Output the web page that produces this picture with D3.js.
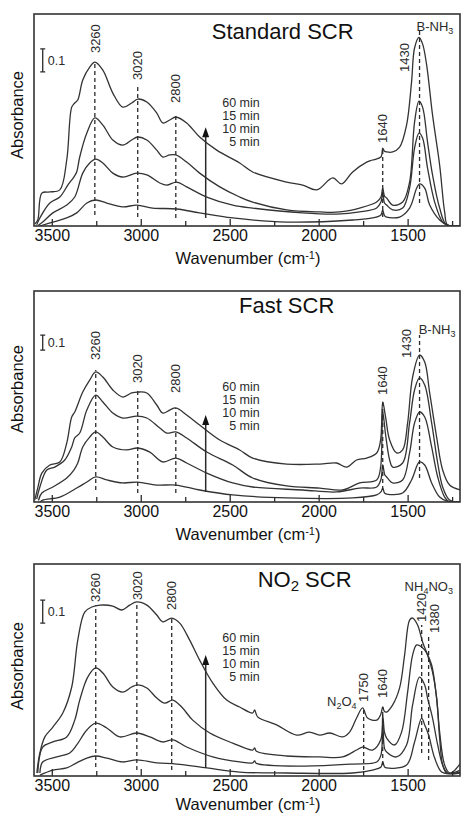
<!DOCTYPE html>
<html>
<head>
<meta charset="utf-8">
<script src="https://cdn.jsdelivr.net/npm/d3@7"></script>
<style>
  body { margin: 0; background: #fff; }
  svg { display: block; font-family: "Liberation Sans", Arial, sans-serif; }
</style>
</head>
<body>
<svg id="chart" width="461" height="814"></svg>
<script>
// ---- data: [wavenumber cm-1, absorbance] ----
const times = ['60 min', '15 min', '10 min', '5 min'];
const majorTicks = [3500, 3000, 2500, 2000, 1500];
const minorTicks = [3250, 2750, 2250, 1750, 1250];

// Standard SCR
const std60 = [[3596,0.009],[3579,0.026],[3556,0.143],[3511,0.148],[3455,0.157],[3416,0.287],[3388,0.517],[3371,0.535],[3354,0.548],[3326,0.635],[3287,0.691],[3258,0.713],[3213,0.678],[3157,0.578],[3101,0.517],[3051,0.535],[3017,0.552],[2966,0.539],[2910,0.491],[2876,0.448],[2837,0.461],[2803,0.474],[2742,0.448],[2669,0.387],[2573,0.330],[2444,0.274],[2371,0.235],[2180,0.191],[2090,0.178],[2011,0.157],[1921,0.209],[1871,0.183],[1809,0.235],[1730,0.278],[1697,0.287],[1650,0.300],[1640,0.339],[1630,0.325],[1618,0.322],[1584,0.322],[1545,0.343],[1506,0.439],[1478,0.626],[1461,0.774],[1436,0.820],[1416,0.792],[1393,0.700],[1360,0.483],[1320,0.265],[1292,0.061],[1275,0.004],[1202,0]];
const std15 = [[3585,0.005],[3567,0.035],[3511,0.100],[3455,0.126],[3410,0.178],[3376,0.213],[3360,0.235],[3343,0.300],[3303,0.404],[3258,0.470],[3213,0.439],[3157,0.374],[3101,0.352],[3051,0.374],[3017,0.387],[2966,0.374],[2910,0.330],[2876,0.300],[2837,0.309],[2803,0.309],[2742,0.278],[2669,0.230],[2556,0.170],[2444,0.126],[2371,0.104],[2180,0.070],[1994,0.061],[1882,0.061],[1770,0.078],[1674,0.104],[1650,0.126],[1640,0.165],[1630,0.130],[1618,0.122],[1584,0.091],[1528,0.104],[1489,0.191],[1461,0.452],[1436,0.543],[1416,0.517],[1388,0.365],[1360,0.222],[1320,0.078],[1281,0.004],[1202,0]];
const std10 = [[3575,0.004],[3551,0.017],[3494,0.057],[3416,0.091],[3371,0.126],[3326,0.230],[3287,0.274],[3253,0.291],[3213,0.274],[3157,0.230],[3101,0.213],[3022,0.230],[2966,0.222],[2893,0.187],[2854,0.178],[2798,0.191],[2742,0.170],[2629,0.126],[2483,0.091],[2371,0.078],[2090,0.057],[1899,0.052],[1770,0.061],[1674,0.078],[1650,0.104],[1640,0.143],[1630,0.100],[1618,0.091],[1584,0.070],[1528,0.078],[1489,0.165],[1461,0.339],[1436,0.404],[1416,0.383],[1388,0.252],[1348,0.104],[1303,0.017],[1275,0.004],[1202,0]];
const std5 = [[3567,0],[3494,0.017],[3416,0.035],[3360,0.057],[3303,0.100],[3253,0.113],[3191,0.100],[3101,0.083],[3022,0.091],[2933,0.078],[2798,0.074],[2669,0.057],[2483,0.035],[2180,0.017],[1809,0.026],[1697,0.035],[1650,0.048],[1640,0.070],[1630,0.045],[1618,0.039],[1545,0.039],[1489,0.078],[1449,0.165],[1433,0.183],[1404,0.165],[1376,0.091],[1320,0.026],[1275,0.004],[1202,0]];

// Fast SCR
const fast60 = [[3596,0.013],[3579,0.093],[3556,0.193],[3511,0.247],[3455,0.267],[3416,0.393],[3388,0.567],[3371,0.600],[3326,0.733],[3287,0.813],[3253,0.867],[3213,0.833],[3157,0.747],[3101,0.700],[3051,0.727],[3017,0.733],[2966,0.727],[2910,0.647],[2876,0.593],[2837,0.613],[2803,0.627],[2742,0.580],[2669,0.513],[2556,0.413],[2444,0.347],[2371,0.293],[2180,0.253],[1994,0.253],[1899,0.260],[1843,0.233],[1787,0.280],[1730,0.293],[1674,0.327],[1652,0.413],[1640,0.667],[1624,0.567],[1601,0.413],[1562,0.327],[1528,0.347],[1500,0.527],[1472,0.833],[1433,0.980],[1404,0.933],[1376,0.727],[1337,0.433],[1303,0.213],[1264,0.113],[1202,0.080]];
const fast15 = [[3585,0.020],[3567,0.100],[3528,0.213],[3483,0.233],[3427,0.280],[3388,0.367],[3371,0.427],[3343,0.460],[3303,0.613],[3253,0.713],[3213,0.667],[3157,0.593],[3101,0.560],[3022,0.573],[2966,0.560],[2893,0.493],[2854,0.460],[2803,0.467],[2742,0.427],[2629,0.333],[2483,0.247],[2371,0.160],[2180,0.107],[1994,0.093],[1865,0.080],[1770,0.127],[1674,0.147],[1652,0.230],[1640,0.600],[1624,0.450],[1601,0.280],[1584,0.233],[1528,0.260],[1489,0.527],[1461,0.747],[1433,0.827],[1404,0.780],[1365,0.527],[1331,0.260],[1303,0.100],[1264,0.013],[1202,0]];
const fast10 = [[3575,0.010],[3556,0.060],[3494,0.100],[3416,0.160],[3376,0.213],[3354,0.260],[3326,0.367],[3287,0.433],[3253,0.467],[3213,0.433],[3157,0.367],[3079,0.347],[3017,0.360],[2949,0.333],[2876,0.267],[2803,0.293],[2742,0.260],[2629,0.193],[2483,0.127],[2371,0.100],[2090,0.080],[1899,0.067],[1770,0.093],[1674,0.100],[1650,0.150],[1640,0.247],[1628,0.180],[1618,0.167],[1584,0.127],[1528,0.147],[1489,0.327],[1461,0.527],[1433,0.600],[1404,0.567],[1365,0.367],[1331,0.167],[1292,0.033],[1264,0],[1202,0]];
const fast5 = [[3565,0],[3551,0.013],[3455,0.033],[3360,0.093],[3303,0.133],[3253,0.167],[3191,0.147],[3101,0.127],[3017,0.133],[2910,0.113],[2803,0.113],[2669,0.080],[2483,0.047],[2180,0.027],[1809,0.027],[1674,0.047],[1650,0.067],[1640,0.093],[1630,0.060],[1618,0.053],[1528,0.060],[1478,0.147],[1433,0.267],[1404,0.247],[1365,0.127],[1320,0.033],[1281,0.007],[1202,0]];

// NO2 SCR
const no260 = [[3584,0.013],[3567,0.100],[3539,0.170],[3494,0.213],[3438,0.274],[3388,0.387],[3354,0.591],[3315,0.713],[3275,0.735],[3230,0.743],[3157,0.739],[3107,0.722],[3062,0.743],[3022,0.757],[2966,0.743],[2910,0.700],[2876,0.670],[2826,0.687],[2781,0.665],[2725,0.591],[2669,0.504],[2595,0.404],[2517,0.330],[2444,0.300],[2371,0.274],[2360,0.287],[2343,0.257],[2236,0.222],[2124,0.178],[2051,0.191],[1994,0.178],[1938,0.187],[1865,0.170],[1826,0.191],[1787,0.252],[1753,0.296],[1725,0.252],[1674,0.243],[1650,0.270],[1640,0.300],[1630,0.280],[1618,0.278],[1584,0.309],[1545,0.383],[1517,0.526],[1489,0.678],[1472,0.687],[1444,0.657],[1416,0.583],[1388,0.526],[1360,0.452],[1337,0.339],[1320,0.165],[1303,0.048],[1281,0.013],[1247,0.017],[1202,0.057]];
const no215 = [[3579,0.013],[3551,0.126],[3494,0.148],[3416,0.170],[3371,0.243],[3343,0.330],[3298,0.430],[3253,0.470],[3213,0.448],[3157,0.387],[3101,0.365],[3051,0.387],[3017,0.396],[2966,0.383],[2910,0.339],[2865,0.317],[2820,0.330],[2770,0.300],[2708,0.243],[2612,0.187],[2483,0.143],[2371,0.113],[2360,0.122],[2350,0.108],[2180,0.087],[1994,0.083],[1865,0.083],[1787,0.113],[1753,0.126],[1697,0.113],[1650,0.160],[1640,0.265],[1630,0.190],[1618,0.165],[1573,0.135],[1534,0.191],[1500,0.365],[1472,0.526],[1449,0.570],[1421,0.561],[1393,0.535],[1365,0.483],[1337,0.339],[1320,0.191],[1292,0.048],[1264,0.013],[1202,0.026]];
const no210 = [[3567,0.013],[3551,0.061],[3472,0.083],[3399,0.100],[3360,0.135],[3303,0.200],[3253,0.230],[3191,0.209],[3118,0.170],[3022,0.187],[2949,0.170],[2876,0.148],[2820,0.157],[2742,0.126],[2595,0.083],[2444,0.061],[2371,0.057],[2360,0.066],[2350,0.055],[2090,0.043],[1809,0.052],[1674,0.061],[1650,0.091],[1640,0.235],[1630,0.120],[1618,0.104],[1562,0.083],[1506,0.135],[1472,0.309],[1433,0.430],[1404,0.396],[1388,0.339],[1360,0.252],[1331,0.135],[1303,0.048],[1275,0.013],[1202,0.017]];
const no25 = [[3567,0.004],[3494,0.026],[3416,0.035],[3360,0.057],[3303,0.078],[3253,0.087],[3191,0.078],[3101,0.061],[3022,0.070],[2910,0.057],[2798,0.052],[2629,0.035],[2444,0.017],[2180,0.013],[1809,0.013],[1697,0.026],[1650,0.039],[1640,0.061],[1630,0.040],[1618,0.035],[1506,0.048],[1461,0.148],[1421,0.252],[1404,0.222],[1382,0.178],[1348,0.078],[1309,0.017],[1264,0.009],[1202,0.013]];

// peak markers: wavenumber, label, dashed span (lo..hi absorbance), label foot, optional label wavenumber
const stdPeaks = [
  { wn: 3258, text: '3260', lo: 0.048, hi: 0.713, foot: 0.752 },
  { wn: 3017, text: '3020', lo: 0.039, hi: 0.613, foot: 0.635 },
  { wn: 2803, text: '2800', lo: 0.035, hi: 0.483, foot: 0.535 },
  { wn: 1640, text: '1640', lo: 0.039, hi: 0.343, foot: 0.361 },
  { wn: 1433, text: '1430', lo: 0.100, hi: 0.852, foot: 0.670, at: 1517 }
];
const fastPeaks = [
  { wn: 3253, text: '3260', lo: 0.080, hi: 0.880, foot: 0.947 },
  { wn: 3017, text: '3020', lo: 0.060, hi: 0.760, foot: 0.793 },
  { wn: 2803, text: '2800', lo: 0.060, hi: 0.627, foot: 0.727 },
  { wn: 1640, text: '1640', lo: 0.080, hi: 0.680, foot: 0.713 },
  { wn: 1433, text: '1430', lo: 0.160, hi: 1.113, foot: 0.960, at: 1506 }
];
const no2Peaks = [
  { wn: 3253, text: '3260', lo: 0.039, hi: 0.743, foot: 0.757 },
  { wn: 3022, text: '3020', lo: 0.026, hi: 0.750, foot: 0.765 },
  { wn: 2826, text: '2800', lo: 0.026, hi: 0.687, foot: 0.722 },
  { wn: 1747, text: '1750', lo: 0.026, hi: 0.300, foot: 0.322 },
  { wn: 1640, text: '1640', lo: 0.048, hi: 0.300, foot: 0.339 },
  { wn: 1421, text: '1420', lo: 0.100, hi: 0.657, foot: 0.670 },
  { wn: 1382, text: '1380', lo: 0.070, hi: 0.613, foot: 0.622, at: 1348 }
];

const panels = [
  { title: [['Standard SCR']], titleWn: 2202, titleDy: 25, top: 14, bottom: 226, yMax: 0.922,
    series: [std60, std15, std10, std5], peaks: stdPeaks, xTitleDy: 38,
    bar: [0.670, 0.770], arrow: [0.035, 0.43], timeTop: 0.535, absY: 115,
    species: [{ parts: [['B-NH'], ['3', 'sub']], wn: 1450, a: 0.848, anchor: 'start' }] },
  { title: [['Fast SCR']], titleWn: 2180, titleDy: 22, top: 291, bottom: 502, yMax: 1.407,
    series: [fast60, fast15, fast10, fast5], peaks: fastPeaks, xTitleDy: 38,
    bar: [1.013, 1.113], arrow: [0.067, 0.58], timeTop: 0.767, absY: 389,
    species: [{ parts: [['B-NH'], ['3', 'sub']], wn: 1438, a: 1.12, anchor: 'start' }] },
  { title: [['NO'], ['2', 'sub'], [' SCR']], titleWn: 2079, titleDy: 23, top: 564, bottom: 776, yMax: 0.922,
    series: [no260, no215, no210, no25], peaks: no2Peaks, xTitleDy: 34,
    bar: [0.665, 0.765], arrow: [0.035, 0.526], timeTop: 0.600, absY: 666,
    species: [
      { parts: [['NH'], ['4', 'sub'], ['NO'], ['3', 'sub']], wn: 1517, a: 0.804, anchor: 'start' },
      { parts: [['N'], ['2', 'sub'], ['O'], ['4', 'sub']], wn: 1787, a: 0.304, anchor: 'end' }
    ] }
];

const ink = '#2b2b2b';
const svg = d3.select('#chart');
const x = d3.scaleLinear().domain([3600, 1200]).range([34, 461]);
const plotRight = 460;

function rich(sel, parts, subSize) {
  parts.forEach(([s, kind]) => {
    const t = sel.append('tspan').text(s);
    if (kind === 'sub') t.attr('baseline-shift', '-28%').attr('font-size', subSize);
    if (kind === 'sup') t.attr('baseline-shift', '45%').attr('font-size', subSize);
  });
}

panels.forEach((p, pi) => {
  const y = d3.scaleLinear().domain([0, p.yMax]).range([p.bottom, p.top]);
  const g = svg.append('g');

  g.append('clipPath').attr('id', 'clip' + pi)
    .append('rect').attr('x', x(3600)).attr('y', p.top)
    .attr('width', plotRight - x(3600)).attr('height', p.bottom - p.top);

  // spectra
  const line = d3.line().x(d => x(d[0])).y(d => y(d[1])).curve(d3.curveCatmullRom.alpha(0.5));
  g.append('g').attr('clip-path', `url(#clip${pi})`)
    .selectAll('path').data(p.series).join('path')
    .attr('d', line).attr('fill', 'none').attr('stroke', '#333').attr('stroke-width', 1.3);

  // dashed peak markers + rotated labels
  g.selectAll('line.pk').data(p.peaks).join('line').attr('class', 'pk')
    .attr('x1', d => x(d.wn)).attr('x2', d => x(d.wn))
    .attr('y1', d => y(d.lo)).attr('y2', d => y(d.hi))
    .attr('stroke', ink).attr('stroke-width', 1.3).attr('stroke-dasharray', '4,3');
  g.selectAll('text.pk').data(p.peaks).join('text').attr('class', 'pk')
    .attr('transform', d => `translate(${x(d.at || d.wn)},${y(d.foot)}) rotate(-90)`)
    .attr('dy', '0.36em').attr('font-size', 13).attr('fill', ink)
    .text(d => d.text);

  // species labels
  p.species.forEach(s => {
    const t = g.append('text').attr('x', x(s.wn)).attr('y', y(s.a))
      .attr('text-anchor', s.anchor).attr('font-size', 13).attr('fill', ink);
    rich(t, s.parts, 9);
  });

  // arrow with time labels
  const ax = x(2635), ay0 = y(p.arrow[0]), ay1 = y(p.arrow[1]);
  g.append('line').attr('x1', ax).attr('x2', ax).attr('y1', ay0).attr('y2', ay1 + 8)
    .attr('stroke', ink).attr('stroke-width', 1.5);
  g.append('path').attr('d', `M${ax},${ay1} L${ax - 3.5},${ay1 + 10} L${ax + 3.5},${ay1 + 10} Z`).attr('fill', '#111');
  g.selectAll('text.tm').data(times).join('text').attr('class', 'tm')
    .attr('x', x(2331)).attr('y', (d, i) => y(p.timeTop) + i * 13)
    .attr('dy', '0.35em').attr('text-anchor', 'end').attr('font-size', 12.5).attr('fill', ink)
    .text(d => d);

  // 0.1 scale bar
  const bx = x(3551), b0 = y(p.bar[0]), b1 = y(p.bar[1]);
  g.append('path').attr('d', `M${bx - 2.5},${b1} H${bx + 2.5} M${bx},${b1} V${b0} M${bx - 2.5},${b0} H${bx + 2.5}`)
    .attr('stroke', ink).attr('stroke-width', 1.3).attr('fill', 'none');
  g.append('text').attr('x', bx + 5).attr('y', (b0 + b1) / 2).attr('dy', '0.35em')
    .attr('font-size', 12.5).attr('fill', ink).text('0.1');

  // title
  const tt = g.append('text').attr('x', x(p.titleWn)).attr('y', p.top + p.titleDy)
    .attr('text-anchor', 'middle').attr('font-size', 22).attr('fill', '#111');
  rich(tt, p.title, 15);

  // x axis (ticks point inward)
  const axMajor = g.append('g').attr('transform', `translate(0,${p.bottom})`)
    .call(d3.axisBottom(x).tickValues(majorTicks).tickSize(-7).tickPadding(4).tickFormat(d3.format('d')));
  const axMinor = g.append('g').attr('transform', `translate(0,${p.bottom})`)
    .call(d3.axisBottom(x).tickValues(minorTicks).tickSize(-5).tickFormat(''));
  [axMajor, axMinor].forEach(a => {
    a.select('.domain').remove();
    a.selectAll('line').attr('stroke', ink).attr('stroke-width', 1.3);
  });
  axMajor.selectAll('text').attr('font-size', 16).attr('fill', '#111')
    .attr('font-family', '"Liberation Sans", Arial, sans-serif');

  // frame
  g.append('rect').attr('x', x(3600)).attr('y', p.top)
    .attr('width', plotRight - x(3600)).attr('height', p.bottom - p.top)
    .attr('fill', 'none').attr('stroke', '#333').attr('stroke-width', 1.6);

  // axis titles
  const xt = g.append('text').attr('x', 248).attr('y', p.bottom + p.xTitleDy)
    .attr('text-anchor', 'middle').attr('font-size', 16.5).attr('fill', '#111');
  rich(xt, [['Wavenumber (cm'], ['-1', 'sup'], [')']], 11);
  g.append('text').attr('transform', `translate(23,${p.absY}) rotate(-90)`)
    .attr('text-anchor', 'middle').attr('font-size', 16.5).attr('fill', '#111').text('Absorbance');
});
</script>
</body>
</html>
